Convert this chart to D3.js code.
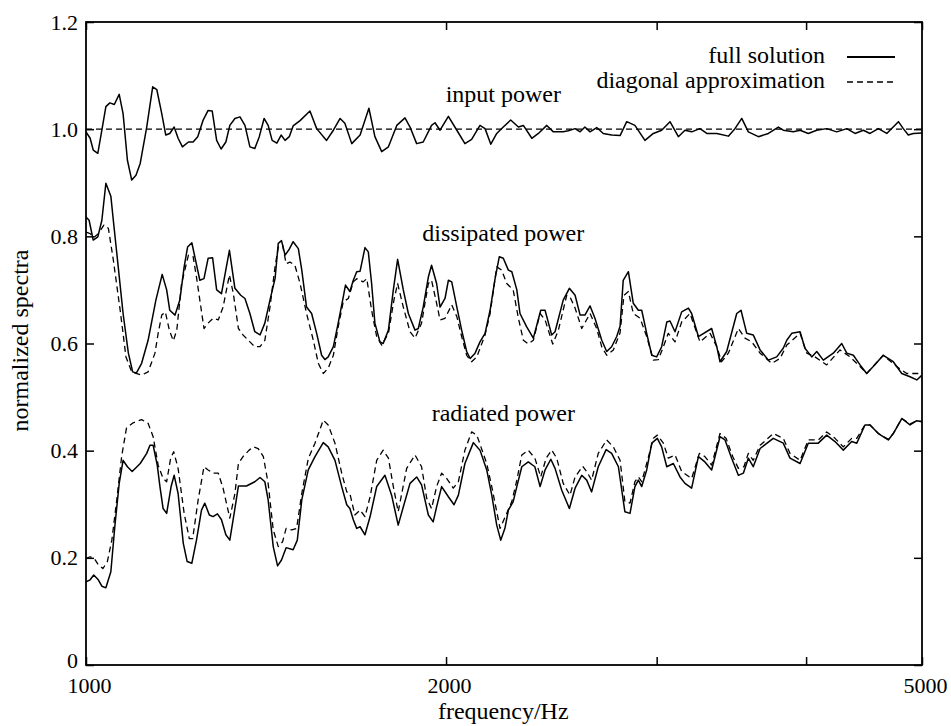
<!DOCTYPE html>
<html>
<head>
<meta charset="utf-8">
<script src="https://cdnjs.cloudflare.com/ajax/libs/d3/7.9.0/d3.min.js"></script>
<style>
  html, body { margin: 0; padding: 0; background: #fff; }
  svg text { font-family: "Liberation Serif", "Times New Roman", serif; fill: #000; }
</style>
</head>
<body>
<div id="chart"></div>
<script>
// normalized spectra vs frequency (Hz)
// each series is a list of [frequency, value] vertices

const inputFull = [
  [1000,0.995],[1008,0.983],[1014,0.961],[1023,0.955],[1031,0.998],[1039,1.042],[1047,1.049],[1056,1.046],
  [1066,1.065],[1074,1.029],[1083,0.942],[1092,0.905],[1101,0.914],[1110,0.936],[1124,1.004],[1137,1.079],
  [1146,1.074],[1157,1.029],[1166,0.989],[1175,0.992],[1185,1.004],[1194,0.983],[1204,0.967],[1218,0.976],
  [1229,0.976],[1240,0.986],[1253,1.017],[1265,1.035],[1275,1.034],[1286,0.979],[1297,0.963],[1309,0.976],
  [1319,1.007],[1332,1.020],[1345,1.023],[1358,1.007],[1371,0.967],[1384,0.964],[1396,0.986],[1409,1.020],
  [1420,1.007],[1431,0.979],[1444,0.974],[1456,0.989],[1467,0.979],[1479,0.986],[1490,1.006],[1510,1.016],
  [1539,1.034],[1559,1.001],[1589,0.979],[1610,0.998],[1631,1.020],[1646,1.011],[1668,0.973],[1695,0.989],
  [1724,1.039],[1744,0.986],[1767,0.958],[1790,0.967],[1819,1.007],[1848,1.021],[1866,1.004],[1890,0.973],
  [1914,0.976],[1945,1.007],[1958,1.012],[1977,0.998],[2009,1.024],[2042,0.998],[2074,0.973],[2101,0.981],
  [2135,1.007],[2156,1.001],[2180,0.972],[2205,0.992],[2233,1.004],[2265,1.017],[2299,1.004],[2321,1.007],
  [2359,0.983],[2389,0.992],[2428,1.007],[2459,0.995],[2506,0.995],[2531,0.997],[2564,1.001],[2589,0.995],
  [2613,1.004],[2639,0.995],[2673,1.003],[2707,0.992],[2751,0.989],[2796,0.988],[2832,1.014],[2877,1.007],
  [2933,0.979],[2981,0.992],[3029,0.998],[3078,1.014],[3128,0.986],[3168,0.998],[3209,0.995],[3261,1.001],
  [3304,0.992],[3368,0.992],[3444,0.987],[3488,1.001],[3534,1.020],[3579,0.995],[3649,0.986],[3720,0.992],
  [3792,1.004],[3828,0.998],[3903,0.995],[3954,0.998],[4017,0.992],[4083,0.998],[4162,1.001],[4243,0.995],
  [4326,1.001],[4395,0.992],[4466,0.998],[4524,0.992],[4597,1.001],[4672,0.992],[4778,1.014],[4823,1.001],
  [4870,0.989],[4917,0.992],[5000,0.993]
];

const inputDiag = [[1000,1.0],[5000,1.0]];

const dissipatedFull = [
  [1000,0.836],[1006,0.830],[1014,0.793],[1023,0.799],[1031,0.830],[1039,0.899],[1049,0.875],[1054,0.830],
  [1064,0.743],[1074,0.656],[1085,0.582],[1094,0.547],[1102,0.545],[1113,0.563],[1127,0.606],[1144,0.681],
  [1158,0.729],[1168,0.700],[1175,0.662],[1187,0.653],[1198,0.681],[1208,0.743],[1216,0.780],[1226,0.788],
  [1233,0.762],[1245,0.718],[1255,0.721],[1265,0.759],[1276,0.760],[1286,0.700],[1298,0.693],[1318,0.774],
  [1332,0.703],[1347,0.690],[1358,0.684],[1371,0.656],[1384,0.622],[1398,0.616],[1411,0.638],[1425,0.681],
  [1439,0.721],[1448,0.787],[1457,0.792],[1467,0.765],[1479,0.776],[1490,0.790],[1505,0.777],[1515,0.737],
  [1529,0.668],[1544,0.656],[1559,0.619],[1574,0.578],[1584,0.570],[1594,0.575],[1610,0.594],[1625,0.638],
  [1641,0.687],[1648,0.709],[1662,0.697],[1673,0.718],[1684,0.734],[1695,0.735],[1711,0.779],[1722,0.771],
  [1733,0.712],[1744,0.638],[1761,0.603],[1772,0.600],[1790,0.625],[1807,0.700],[1822,0.757],[1842,0.700],
  [1860,0.656],[1884,0.625],[1896,0.628],[1914,0.668],[1933,0.724],[1945,0.746],[1964,0.712],[1977,0.668],
  [1996,0.684],[2009,0.718],[2022,0.715],[2042,0.668],[2061,0.625],[2081,0.585],[2095,0.572],[2115,0.582],
  [2135,0.603],[2156,0.619],[2177,0.662],[2198,0.721],[2216,0.762],[2233,0.759],[2255,0.737],[2270,0.734],
  [2292,0.700],[2306,0.656],[2336,0.631],[2366,0.610],[2400,0.662],[2420,0.662],[2451,0.616],[2467,0.622],
  [2506,0.681],[2536,0.703],[2564,0.690],[2589,0.653],[2613,0.653],[2639,0.670],[2664,0.647],[2699,0.606],
  [2725,0.585],[2751,0.594],[2778,0.613],[2796,0.632],[2813,0.718],[2841,0.734],[2868,0.675],[2896,0.662],
  [2915,0.662],[2943,0.619],[2972,0.578],[3000,0.575],[3029,0.594],[3059,0.640],[3078,0.642],[3108,0.622],
  [3148,0.659],[3189,0.666],[3209,0.656],[3251,0.613],[3335,0.628],[3368,0.594],[3389,0.566],[3433,0.585],
  [3500,0.656],[3529,0.662],[3568,0.619],[3613,0.616],[3661,0.588],[3720,0.569],[3780,0.575],[3828,0.591],
  [3854,0.606],[3891,0.619],[3954,0.622],[3991,0.591],[4044,0.575],[4083,0.585],[4135,0.569],[4215,0.582],
  [4284,0.600],[4326,0.582],[4381,0.578],[4438,0.560],[4495,0.544],[4552,0.557],[4641,0.578],[4731,0.566],
  [4809,0.544],[4886,0.538],[4950,0.532],[5000,0.541]
];

const dissipatedDiag = [
  [1000,0.808],[1008,0.805],[1015,0.798],[1024,0.805],[1035,0.821],[1044,0.815],[1054,0.756],[1068,0.662],
  [1080,0.575],[1092,0.547],[1113,0.541],[1127,0.547],[1142,0.582],[1149,0.619],[1157,0.653],[1165,0.659],
  [1174,0.625],[1183,0.605],[1191,0.625],[1202,0.712],[1218,0.765],[1229,0.762],[1237,0.724],[1255,0.628],
  [1265,0.638],[1277,0.647],[1290,0.644],[1302,0.668],[1318,0.728],[1328,0.693],[1341,0.628],[1353,0.616],
  [1371,0.603],[1384,0.594],[1398,0.594],[1411,0.606],[1425,0.668],[1439,0.743],[1448,0.780],[1460,0.784],
  [1470,0.749],[1481,0.752],[1495,0.746],[1510,0.712],[1529,0.656],[1549,0.606],[1564,0.563],[1579,0.544],
  [1594,0.554],[1610,0.578],[1625,0.631],[1641,0.678],[1657,0.684],[1673,0.715],[1684,0.721],[1705,0.715],
  [1717,0.721],[1733,0.662],[1750,0.613],[1767,0.597],[1790,0.619],[1809,0.681],[1822,0.712],[1842,0.668],
  [1866,0.622],[1884,0.610],[1908,0.638],[1933,0.712],[1945,0.718],[1964,0.675],[1977,0.644],[1996,0.647],
  [2022,0.672],[2042,0.650],[2061,0.613],[2081,0.578],[2101,0.566],[2122,0.575],[2156,0.616],[2177,0.656],
  [2205,0.743],[2226,0.737],[2248,0.712],[2276,0.700],[2299,0.647],[2321,0.606],[2343,0.599],[2366,0.606],
  [2397,0.656],[2420,0.644],[2456,0.599],[2483,0.625],[2523,0.690],[2539,0.687],[2564,0.666],[2597,0.628],
  [2639,0.656],[2673,0.628],[2699,0.594],[2725,0.578],[2760,0.588],[2796,0.620],[2817,0.690],[2841,0.697],
  [2868,0.656],[2906,0.647],[2943,0.613],[2981,0.569],[3010,0.570],[3039,0.594],[3068,0.619],[3108,0.603],
  [3148,0.640],[3199,0.656],[3261,0.603],[3325,0.619],[3368,0.594],[3400,0.566],[3444,0.582],[3511,0.628],
  [3556,0.610],[3603,0.603],[3661,0.582],[3744,0.563],[3804,0.572],[3854,0.597],[3954,0.619],[4005,0.582],
  [4069,0.575],[4162,0.560],[4270,0.588],[4353,0.575],[4438,0.557],[4495,0.544],[4641,0.578],[4763,0.557],
  [4855,0.544],[5000,0.544]
];

const radiatedFull = [
  [1000,0.155],[1008,0.159],[1015,0.168],[1024,0.159],[1031,0.147],[1039,0.144],[1049,0.174],[1057,0.258],
  [1066,0.339],[1074,0.382],[1083,0.370],[1093,0.361],[1110,0.376],[1124,0.395],[1131,0.410],[1138,0.410],
  [1147,0.373],[1153,0.333],[1160,0.292],[1168,0.283],[1178,0.333],[1185,0.354],[1194,0.320],[1206,0.227],
  [1215,0.193],[1226,0.190],[1237,0.233],[1249,0.289],[1257,0.302],[1268,0.280],[1277,0.277],[1288,0.282],
  [1298,0.271],[1309,0.243],[1319,0.233],[1330,0.283],[1341,0.334],[1362,0.334],[1384,0.342],[1398,0.350],
  [1411,0.342],[1420,0.308],[1434,0.221],[1446,0.185],[1457,0.196],[1470,0.219],[1490,0.215],[1502,0.233],
  [1515,0.308],[1534,0.364],[1554,0.389],[1579,0.415],[1594,0.407],[1615,0.382],[1636,0.333],[1652,0.299],
  [1662,0.292],[1673,0.271],[1684,0.255],[1695,0.258],[1711,0.243],[1728,0.277],[1750,0.333],[1778,0.354],
  [1801,0.317],[1824,0.261],[1842,0.295],[1866,0.339],[1890,0.351],[1908,0.336],[1933,0.280],[1951,0.267],
  [1964,0.295],[1983,0.333],[2009,0.314],[2031,0.299],[2048,0.317],[2074,0.376],[2108,0.415],[2135,0.401],
  [2163,0.364],[2184,0.317],[2205,0.261],[2222,0.233],[2240,0.255],[2255,0.289],[2276,0.305],[2292,0.333],
  [2314,0.370],[2343,0.379],[2373,0.370],[2397,0.333],[2420,0.364],[2447,0.384],[2467,0.367],[2499,0.326],
  [2536,0.292],[2564,0.330],[2597,0.354],[2622,0.345],[2647,0.323],[2681,0.370],[2722,0.402],[2751,0.395],
  [2787,0.370],[2822,0.286],[2850,0.283],[2877,0.333],[2896,0.345],[2915,0.333],[2943,0.364],[2972,0.414],
  [3004,0.423],[3029,0.407],[3059,0.370],[3098,0.376],[3138,0.351],[3168,0.339],[3209,0.330],[3251,0.389],
  [3292,0.379],[3335,0.364],[3389,0.426],[3422,0.420],[3466,0.386],[3511,0.354],[3545,0.358],[3579,0.386],
  [3613,0.370],[3661,0.404],[3755,0.423],[3828,0.414],[3878,0.386],[3954,0.376],[4017,0.414],[4095,0.414],
  [4162,0.429],[4229,0.417],[4297,0.401],[4367,0.417],[4410,0.414],[4480,0.448],[4524,0.448],[4597,0.432],
  [4686,0.420],[4731,0.432],[4809,0.460],[4886,0.448],[4950,0.456],[5000,0.454]
];

const radiatedDiag = [
  [1000,0.199],[1008,0.202],[1016,0.199],[1024,0.187],[1033,0.180],[1042,0.193],[1051,0.233],[1061,0.308],
  [1071,0.389],[1081,0.442],[1095,0.452],[1113,0.458],[1127,0.451],[1138,0.426],[1149,0.373],[1160,0.348],
  [1168,0.342],[1177,0.386],[1184,0.398],[1194,0.367],[1208,0.283],[1220,0.236],[1228,0.236],[1241,0.308],
  [1255,0.370],[1265,0.364],[1277,0.358],[1290,0.358],[1302,0.330],[1319,0.274],[1332,0.320],[1341,0.376],
  [1353,0.389],[1369,0.401],[1380,0.407],[1393,0.404],[1407,0.389],[1420,0.339],[1434,0.252],[1448,0.221],
  [1460,0.230],[1470,0.255],[1486,0.252],[1500,0.255],[1515,0.320],[1534,0.385],[1554,0.414],[1579,0.457],
  [1594,0.448],[1615,0.414],[1636,0.358],[1652,0.323],[1662,0.320],[1678,0.280],[1695,0.289],[1711,0.277],
  [1728,0.314],[1750,0.382],[1772,0.401],[1790,0.386],[1807,0.333],[1824,0.286],[1854,0.367],[1884,0.392],
  [1908,0.370],[1927,0.311],[1945,0.292],[1964,0.333],[1983,0.358],[2003,0.348],[2028,0.330],[2048,0.342],
  [2074,0.401],[2101,0.435],[2122,0.429],[2163,0.376],[2184,0.333],[2219,0.255],[2248,0.283],[2270,0.305],
  [2292,0.345],[2314,0.392],[2343,0.401],[2373,0.386],[2400,0.351],[2425,0.386],[2451,0.401],[2475,0.386],
  [2506,0.339],[2539,0.317],[2564,0.351],[2602,0.371],[2622,0.361],[2647,0.345],[2681,0.395],[2725,0.420],
  [2760,0.407],[2796,0.382],[2822,0.305],[2850,0.302],[2877,0.342],[2896,0.351],[2915,0.342],[2943,0.376],
  [2981,0.423],[3004,0.429],[3039,0.414],[3068,0.386],[3108,0.392],[3148,0.361],[3209,0.348],[3257,0.395],
  [3292,0.389],[3335,0.373],[3389,0.432],[3429,0.423],[3473,0.389],[3511,0.367],[3549,0.370],[3579,0.395],
  [3613,0.382],[3661,0.410],[3755,0.432],[3828,0.423],[3878,0.395],[3954,0.382],[4017,0.420],[4095,0.420],
  [4162,0.435],[4229,0.423],[4297,0.407],[4367,0.423],[4410,0.423],[4480,0.448],[4524,0.448],[4597,0.432],
  [4686,0.421],[4731,0.432],[4809,0.460],[4886,0.450],[4950,0.456],[5000,0.454]
];

const xTicks = [1000, 2000, 3000, 4000, 5000];
const xTickLabels = [1000, 2000, 5000];
const yTicks = [0, 0.2, 0.4, 0.6, 0.8, 1.0, 1.2];

// curve labels: [text, frequency, value] (anchor is centre / baseline)
const curveLabels = [
  ['input power', 2233, 1.050],
  ['dissipated power', 2233, 0.791],
  ['radiated power', 2233, 0.455]
];

const W = 951, H = 726;
const margin = { top: 22, right: 29, bottom: 61, left: 86 };
const iw = W - margin.left - margin.right;
const ih = H - margin.top - margin.bottom;

const svg = d3.select('#chart').append('svg')
  .attr('width', W)
  .attr('height', H)
  .attr('font-family', '"Liberation Serif", "Times New Roman", serif')
  .style('display', 'block');

const g = svg.append('g').attr('transform', `translate(${margin.left},${margin.top})`);

const x = d3.scaleLog().domain([1000, 5000]).range([0, iw]);
const y = d3.scaleLinear().domain([0, 1.2]).range([ih, 0]);

svg.append('defs').append('clipPath').attr('id', 'plot-clip')
  .append('rect').attr('width', iw).attr('height', ih);

const line = d3.line().x(d => x(d[0])).y(d => y(d[1]));

const curves = g.append('g').attr('clip-path', 'url(#plot-clip)');
const dash = '6,4';

function drawSeries(data, dashed) {
  curves.append('path')
    .datum(data)
    .attr('d', line)
    .attr('fill', 'none')
    .attr('stroke', '#000')
    .attr('stroke-width', dashed ? 1.3 : 1.5)
    .attr('stroke-linejoin', 'round')
    .attr('stroke-dasharray', dashed ? dash : null);
}

drawSeries(inputDiag, true);
drawSeries(dissipatedDiag, true);
drawSeries(radiatedDiag, true);
drawSeries(inputFull, false);
drawSeries(dissipatedFull, false);
drawSeries(radiatedFull, false);

// axes: ticks point inward on all four sides
const tickLen = 8;
const fmtX = d => xTickLabels.includes(d) ? String(d) : '';
const fmtY = d => d === 0 ? '0' : d3.format('.1f')(d);

const axB = g.append('g').attr('transform', `translate(0,${ih})`)
  .call(d3.axisBottom(x).tickValues(xTicks).tickFormat(fmtX).tickSizeInner(-tickLen).tickSizeOuter(0).tickPadding(12));
const axT = g.append('g')
  .call(d3.axisTop(x).tickValues(xTicks).tickFormat('').tickSizeInner(-tickLen).tickSizeOuter(0));
const axL = g.append('g')
  .call(d3.axisLeft(y).tickValues(yTicks).tickFormat(fmtY).tickSizeInner(-tickLen).tickSizeOuter(0).tickPadding(8));
const axR = g.append('g').attr('transform', `translate(${iw},0)`)
  .call(d3.axisRight(y).tickValues(yTicks).tickFormat('').tickSizeInner(-tickLen).tickSizeOuter(0));

[axB, axT, axL, axR].forEach(a => {
  a.attr('font-family', null);
  a.select('.domain').remove();
  a.selectAll('line').attr('stroke', '#000').attr('stroke-width', 1.5);
  a.selectAll('text')
    .style('font-family', '"Liberation Serif", "Times New Roman", serif')
    .style('font-size', '22px')
    .attr('fill', '#000');
});
axB.selectAll('text').attr('dx', 3);
// the "0" sits a little higher than the other labels, clear of "1000"
axL.selectAll('text').filter(d => d === 0).attr('dy', '0.1em');

// frame
g.append('rect')
  .attr('width', iw).attr('height', ih)
  .attr('fill', 'none').attr('stroke', '#000').attr('stroke-width', 1.8);

// axis titles
svg.append('text')
  .attr('x', margin.left + x(2233)).attr('y', 719)
  .attr('text-anchor', 'middle')
  .style('font-size', '24px')
  .text('frequency/Hz');

svg.append('text')
  .attr('transform', `translate(28,${margin.top + y(0.6) - 3}) rotate(-90)`)
  .attr('text-anchor', 'middle')
  .style('font-size', '24px')
  .text('normalized spectra');

// curve labels
g.selectAll('.curve-label').data(curveLabels).join('text')
  .attr('class', 'curve-label')
  .attr('x', d => x(d[1]))
  .attr('y', d => y(d[2]))
  .attr('text-anchor', 'middle')
  .style('font-size', '24px')
  .text(d => d[0]);

// legend
const legend = svg.append('g');
const legendRows = [
  { label: 'full solution', dashed: false, y: 63 },
  { label: 'diagonal approximation', dashed: true, y: 88 }
];
legendRows.forEach(r => {
  legend.append('text')
    .attr('x', 825).attr('y', r.y)
    .attr('text-anchor', 'end')
    .style('font-size', '24px')
    .text(r.label);
  legend.append('line')
    .attr('x1', 847).attr('x2', 895)
    .attr('y1', r.y - 6).attr('y2', r.y - 6)
    .attr('stroke', '#000')
    .attr('stroke-width', r.dashed ? 1.3 : 2)
    .attr('stroke-dasharray', r.dashed ? dash : null);
});
</script>
</body>
</html>
